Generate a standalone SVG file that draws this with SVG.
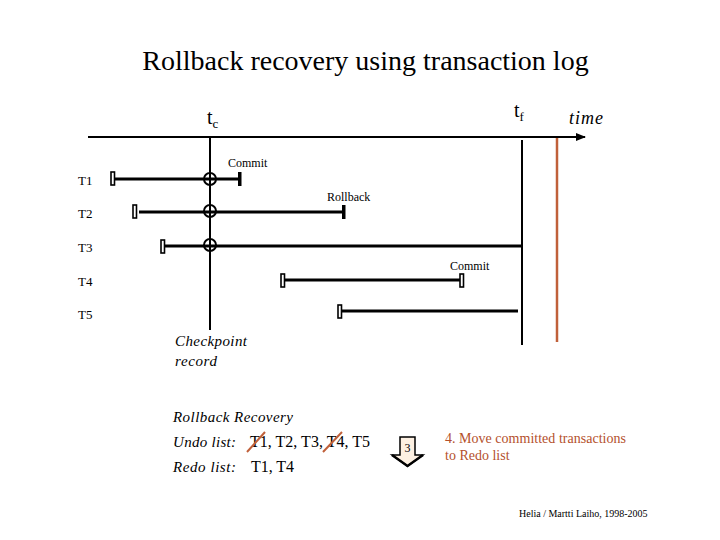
<svg xmlns="http://www.w3.org/2000/svg" width="720" height="540" viewBox="0 0 720 540">
<defs>
<style>
.s{font-family:'Liberation Serif','Times New Roman','DejaVu Serif',serif;fill:#000}
.i{font-style:italic}
.ln{stroke:#000;stroke-width:3;fill:none}
.st{fill:#fff;stroke:#000;stroke-width:1.6}
.cp{fill:none;stroke:#000;stroke-width:2}
.red{fill:#b4502c}
</style>
<marker id="ah" markerWidth="10" markerHeight="8" refX="9" refY="4" orient="auto" markerUnits="userSpaceOnUse">
<path d="M0,0 L10,4 L0,8 z" fill="#000"/>
</marker>
</defs>
<rect width="720" height="540" fill="#fff"/>
<text class="s" x="365.5" y="70" font-size="28" text-anchor="middle">Rollback recovery using transaction log</text>

<g id="axis">
<line x1="88" y1="137" x2="585" y2="137" stroke="#000" stroke-width="2" marker-end="url(#ah)"/>
<text class="s" x="207" y="124" font-size="20">t<tspan font-size="13" dy="4">c</tspan></text>
<text class="s" x="514" y="117" font-size="20">t<tspan font-size="13" dy="4">f</tspan></text>
<text class="s i" x="569" y="124" font-size="18" textLength="34">time</text>
</g>

<g id="connectors">
<line x1="210" y1="137" x2="210" y2="330" stroke="#000" stroke-width="2"/>
<line x1="522" y1="140" x2="522" y2="345" stroke="#000" stroke-width="2"/>
<line x1="557" y1="138" x2="557" y2="342" stroke="#c0603a" stroke-width="2.5"/>
</g>

<g id="T1">
<text class="s" x="78" y="185" font-size="13">T1</text>
<rect class="st" x="111" y="172" width="3.5" height="13"/>
<line class="ln" x1="115" y1="179" x2="240" y2="179"/>
<rect x="238" y="172" width="3.5" height="14" fill="#000"/>
<circle class="cp" cx="210" cy="179" r="6"/>
<text class="s" x="228" y="167" font-size="12">Commit</text>
</g>

<g id="T2">
<text class="s" x="78" y="218" font-size="13">T2</text>
<rect class="st" x="133" y="205" width="3.5" height="13"/>
<line class="ln" x1="139" y1="212" x2="343" y2="212"/>
<rect x="342" y="205" width="3.5" height="14" fill="#000"/>
<circle class="cp" cx="210" cy="211" r="6"/>
<text class="s" x="327" y="201" font-size="12">Rollback</text>
</g>

<g id="T3">
<text class="s" x="78" y="252" font-size="13">T3</text>
<rect class="st" x="161" y="240" width="3.5" height="13"/>
<line class="ln" x1="165" y1="246" x2="522" y2="246"/>
<circle class="cp" cx="210" cy="245" r="6"/>
</g>

<g id="T4">
<text class="s" x="78" y="286" font-size="13">T4</text>
<rect class="st" x="281" y="274" width="3.5" height="13"/>
<line class="ln" x1="285" y1="280" x2="460" y2="280"/>
<rect class="st" x="460" y="274" width="3.5" height="13"/>
<text class="s" x="450" y="270" font-size="12">Commit</text>
</g>

<g id="T5">
<text class="s" x="78" y="319" font-size="13">T5</text>
<rect class="st" x="338" y="305" width="3.5" height="13"/>
<line class="ln" x1="342" y1="311" x2="518" y2="311"/>
</g>

<g id="checkpoint">
<text class="s i" x="175" y="346" font-size="15" textLength="72">Checkpoint</text>
<text class="s i" x="175" y="366" font-size="15" textLength="42">record</text>
</g>

<g id="recovery">
<text class="s i" x="173" y="422" font-size="15" textLength="120">Rollback Recovery</text>
<text class="s i" x="173" y="447" font-size="15" textLength="63">Undo list:</text>
<text class="s" x="250" y="447" font-size="16" textLength="120">T1, T2, T3, T4, T5</text>
<text class="s i" x="173" y="472" font-size="15" textLength="63">Redo list:</text>
<text class="s" x="251" y="472" font-size="16" textLength="43">T1, T4</text>
<line x1="247" y1="452" x2="265" y2="432" stroke="#c0603a" stroke-width="2"/>
<line x1="323" y1="452" x2="342" y2="432" stroke="#c0603a" stroke-width="2"/>
</g>

<g id="step">
<path d="M400,437 H415 V455 H423 L407.5,466 L392,455 H400 Z" fill="#fdf0e2" stroke="#000" stroke-width="1.5" stroke-linejoin="miter"/>
<path d="M392,455 L407.5,466 L423,455" fill="none" stroke="#000" stroke-width="2.5"/>
<text class="s" x="407.5" y="452" font-size="12" text-anchor="middle">3</text>
<text class="s red" x="445" y="443" font-size="14" textLength="181">4. Move committed transactions</text>
<text class="s red" x="445" y="460" font-size="14">to Redo list</text>
</g>

<text class="s" x="519" y="517" font-size="10">Helia / Martti Laiho, 1998-2005</text>
</svg>
